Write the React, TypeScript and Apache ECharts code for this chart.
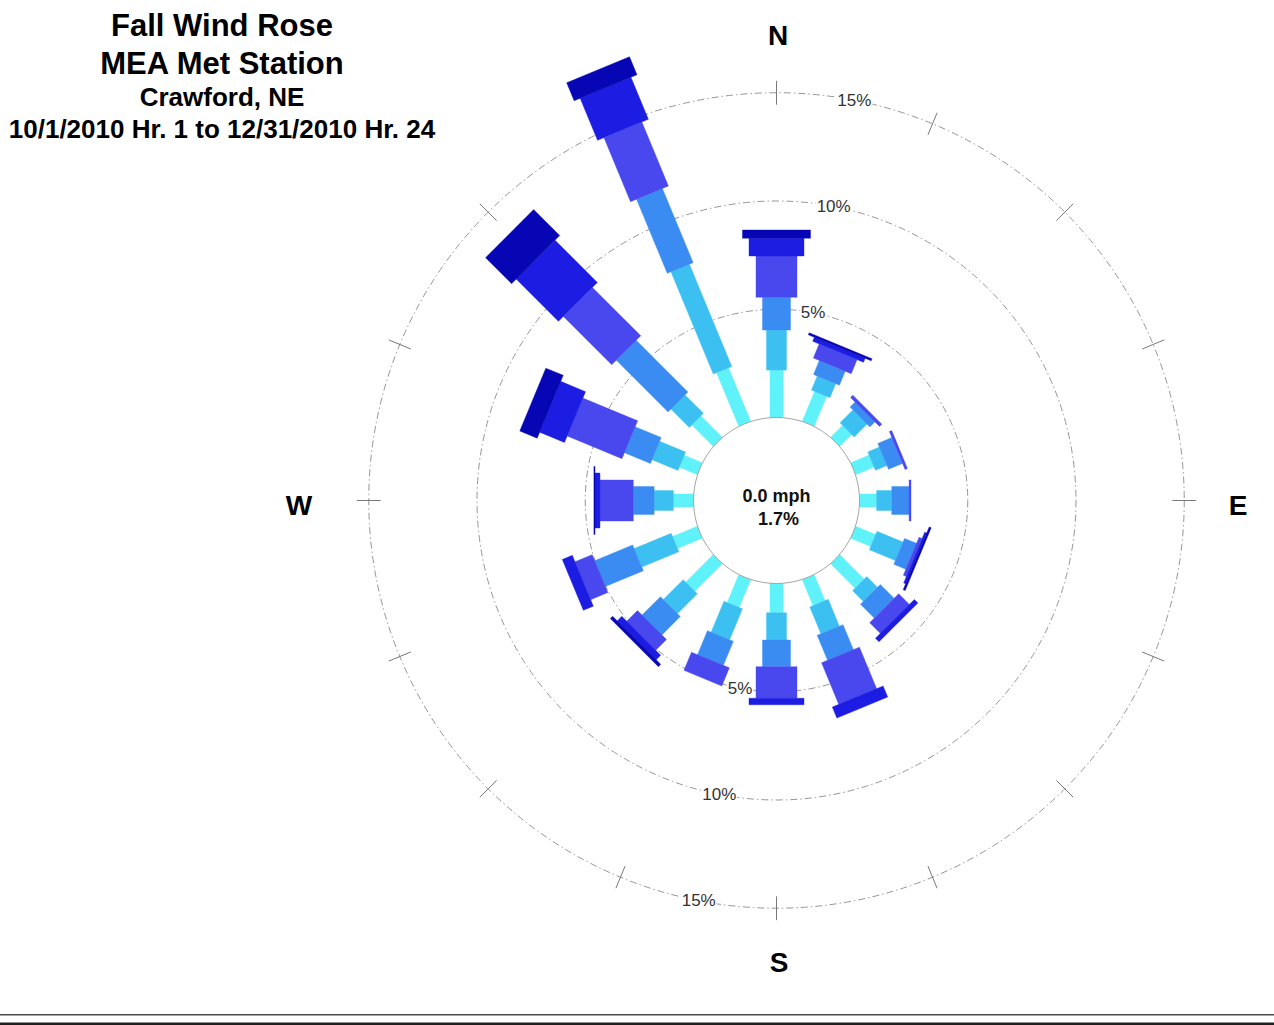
import React, { useEffect, useRef } from 'react';
import * as echarts from 'echarts';

// ---- data ----
const directionNames = ['N', 'NNE', 'NE', 'ENE', 'E', 'ESE', 'SE', 'SSE', 'S', 'SSW', 'SW', 'WSW', 'W', 'WNW', 'NW', 'NNW'];
const directionAngles = [0, 22.5, 45, 67.5, 90, 112.5, 135, 157.5, 180, 202.5, 225, 247.5, 270, 292.5, 315, 337.5];

// frequency (%) of each wind-speed class, per direction (N ... NNW)
const speedClass1 = [2.19, 1.5, 0.78, 0.92, 0.79, 1.0, 1.6, 1.3, 1.35, 1.39, 1.8, 1.24, 0.93, 0.9, 1.4, 2.68];
const speedClass2 = [1.85, 0.7, 0.84, 0.58, 0.7, 1.3, 0.7, 1.34, 1.26, 1.55, 1.3, 1.85, 0.89, 1.3, 1.2, 5.11];
const speedClass3 = [1.51, 0.7, 0.33, 0.7, 0.8, 0.6, 0.9, 1.25, 1.23, 1.2, 1.2, 1.9, 0.96, 1.3, 3.38, 3.71];
const speedClass4 = [1.91, 0.7, 0.15, 0.12, 0.09, 0.15, 0.7, 2.08, 1.46, 0.91, 0.7, 0.86, 1.54, 2.74, 3.16, 3.2];
const speedClass5 = [0.82, 0.2, 0, 0, 0, 0.1, 0.23, 0.55, 0.3, 0, 0.3, 0.5, 0.23, 1.24, 2.76, 2.1];
const speedClass6 = [0.38, 0.1, 0, 0, 0, 0.1, 0, 0, 0, 0, 0.15, 0, 0.05, 0.87, 1.7, 0.9];
const speedClasses = [speedClass1, speedClass2, speedClass3, speedClass4, speedClass5, speedClass6];

const ringValues = [5, 10, 15];
const ringLabelTexts = ['5%', '10%', '15%'];
const tickRingValue = 15;
const calmSpeedText = '0.0 mph';
const calmPercentText = '1.7%';
const titleLines = ['Fall Wind Rose', 'MEA Met Station', 'Crawford, NE', '10/1/2010 Hr. 1 to 12/31/2010 Hr. 24'];
const compassLetters = ['N', 'E', 'S', 'W'];

// ---- styles ----
const classColors = ['#5ff2fa', '#3cc0f2', '#3a8cf2', '#4848ee', '#1c1ce2', '#0606b4'];
const classWidths = [13, 20, 28, 41, 55, 68];
const FONT = '"Liberation Sans", Arial, Helvetica, sans-serif';

export default function App() {
  const ref = useRef<HTMLDivElement>(null);

  useEffect(() => {
    if (!ref.current) return;
    const chart = echarts.init(ref.current, undefined, { renderer: 'svg' });

    const barData: number[][] = [];
    directionAngles.forEach((ang, d) => {
      let cum = 0;
      speedClasses.forEach((cls, k) => {
        const start = cum;
        cum += cls[d];
        if (cls[d] > 0) barData.push([cum, ang, start, k]);
      });
    });

    const ringData = ringValues.map((v, i) => [v, 0, i]);
    const tickData = directionAngles.map((a) => [tickRingValue, a]);

    const titleText = (i: number, y: number, size: number) => ({
      type: 'text',
      x: 222,
      y,
      style: { text: titleLines[i], x: 0, y: 0, fill: '#000', font: `bold ${size}px ${FONT}`, align: 'center', verticalAlign: 'middle' },
    });
    const compassText = (i: number, x: number, y: number) => ({
      type: 'text',
      x,
      y,
      style: { text: compassLetters[i], x: 0, y: 0, fill: '#000', font: `bold 28px ${FONT}`, align: 'center', verticalAlign: 'middle' },
    });

    const option: any = {
      animation: false,
      backgroundColor: '#ffffff',
      polar: { center: [776.5, 500.5], radius: [83, 407.75] },
      angleAxis: { type: 'value', min: 0, max: 360, startAngle: 90, clockwise: true, show: false },
      radiusAxis: { type: 'value', min: 0, max: 15, show: false },
      series: [
        {
          type: 'custom',
          name: 'rings',
          coordinateSystem: 'polar',
          z: 1,
          silent: true,
          data: ringData,
          renderItem: (params: any, api: any) => {
            const cs = params.coordSys;
            const v = api.value(0);
            const p = api.coord([v, 0]);
            const r = Math.hypot(p[0] - cs.cx, p[1] - cs.cy);
            return {
              type: 'circle',
              shape: { cx: cs.cx, cy: cs.cy, r },
              style: { fill: 'none', stroke: '#8a8a8a', lineWidth: 0.9, lineDash: [7, 3, 1.5, 3] },
            };
          },
        },
        {
          type: 'custom',
          name: 'ticks',
          coordinateSystem: 'polar',
          z: 1,
          silent: true,
          data: tickData,
          renderItem: (params: any, api: any) => {
            const v = api.value(0);
            const a = api.value(1);
            const p0 = api.coord([v - 0.55, a]);
            const p1 = api.coord([v + 0.55, a]);
            return {
              type: 'line',
              shape: { x1: p0[0], y1: p0[1], x2: p1[0], y2: p1[1] },
              style: { stroke: '#6a6a6a', lineWidth: 0.9 },
            };
          },
        },
        {
          type: 'custom',
          name: 'ringLabels',
          coordinateSystem: 'polar',
          z: 3,
          silent: true,
          data: ringData,
          renderItem: (params: any, api: any) => {
            const v = api.value(0);
            const i = api.value(2);
            const pTop = api.coord([v, 11]);
            const pBot = api.coord([v, 191]);
            const mk = (p: number[]) => ({
              type: 'text',
              x: p[0],
              y: p[1],
              style: {
                text: ringLabelTexts[i],
                x: 0,
                y: 0,
                fill: '#333333',
                font: `17px ${FONT}`,
                align: 'center',
                verticalAlign: 'middle',
                backgroundColor: '#ffffff',
                padding: [0, 1],
              },
            });
            return { type: 'group', children: [mk(pTop), mk(pBot)] };
          },
        },
        {
          type: 'custom',
          name: 'bars',
          coordinateSystem: 'polar',
          z: 2,
          silent: true,
          data: barData,
          renderItem: (params: any, api: any) => {
            const end = api.value(0);
            const ang = api.value(1);
            const start = api.value(2);
            const k = api.value(3);
            const a = api.coord([start, ang]);
            const b = api.coord([end, ang]);
            const o = api.coord([0, ang]);
            const f = api.coord([15, ang]);
            let dx = f[0] - o[0];
            let dy = f[1] - o[1];
            const len = Math.hypot(dx, dy) || 1;
            dx /= len;
            dy /= len;
            const nx = -dy;
            const ny = dx;
            const h = classWidths[k] / 2;
            return {
              type: 'polygon',
              shape: {
                points: [
                  [a[0] + nx * h, a[1] + ny * h],
                  [b[0] + nx * h, b[1] + ny * h],
                  [b[0] - nx * h, b[1] - ny * h],
                  [a[0] - nx * h, a[1] - ny * h],
                ],
              },
              style: { fill: classColors[k], stroke: classColors[k], lineWidth: 0.4 },
            };
          },
        },
        {
          type: 'custom',
          name: 'calm',
          coordinateSystem: 'polar',
          z: 4,
          silent: true,
          data: [[0, 0]],
          renderItem: (params: any, api: any) => {
            const cs = params.coordSys;
            const p = api.coord([0, 0]);
            const r = Math.hypot(p[0] - cs.cx, p[1] - cs.cy);
            return {
              type: 'group',
              children: [
                {
                  type: 'circle',
                  shape: { cx: cs.cx, cy: cs.cy, r },
                  style: { fill: '#ffffff', stroke: '#9a9a9a', lineWidth: 0.9 },
                },
                {
                  type: 'text',
                  x: cs.cx,
                  y: cs.cy - 5,
                  style: { text: calmSpeedText, x: 0, y: 0, fill: '#111', font: `bold 18px ${FONT}`, align: 'center', verticalAlign: 'middle' },
                },
                {
                  type: 'text',
                  x: cs.cx + 2,
                  y: cs.cy + 18.5,
                  style: { text: calmPercentText, x: 0, y: 0, fill: '#111', font: `bold 18px ${FONT}`, align: 'center', verticalAlign: 'middle' },
                },
              ],
            };
          },
        },
      ],
      graphic: [
        titleText(0, 25, 31),
        titleText(1, 63, 31),
        titleText(2, 97, 26),
        titleText(3, 129, 26),
        compassText(0, 778, 35),
        compassText(1, 1238, 505),
        compassText(2, 779, 962),
        compassText(3, 299, 505),
        { type: 'rect', shape: { x: 0, y: 1014, width: 1274, height: 1.6 }, style: { fill: '#4a4a4a' } },
        { type: 'rect', shape: { x: 0, y: 1022.5, width: 1274, height: 2.5 }, style: { fill: '#1e1e1e' } },
      ],
    };

    chart.setOption(option);
    return () => chart.dispose();
  }, []);

  return (
    <div
      ref={ref}
      style={{ position: 'absolute', left: 0, top: 0, width: 1274, height: 1025 }}
    />
  );
}
